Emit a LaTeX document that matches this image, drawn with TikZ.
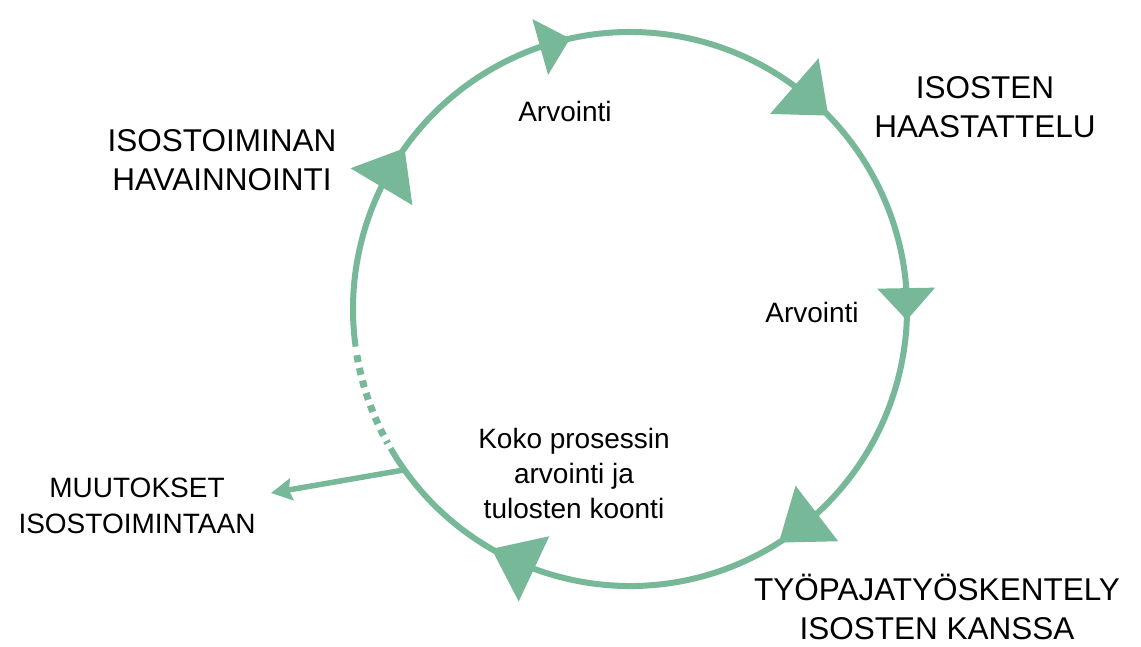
\documentclass[tikz,border=0pt]{standalone}
\usepackage{fontspec}
\setmainfont{Liberation Sans}
\usetikzlibrary{calc,arrows.meta}
\definecolor{cyc}{RGB}{119,184,152}
\begin{document}
\begin{tikzpicture}[x=1pt,y=1pt,
  ring/.style={draw=cyc,line width=6pt},
  lab/.style={font=\fontsize{31.5}{39}\selectfont,align=center,anchor=base,inner sep=0pt},
  small/.style={font=\fontsize{28}{35}\selectfont,align=center,anchor=base,inner sep=0pt},
  tri/.style={fill=cyc}]
\useasboundingbox[fill=white] (0,0) rectangle (1141,-646);
\coordinate (C) at (630,-309);
\def\R{277pt}
% solid ring
\draw[ring] ($(C)+(210.2:\R)$) arc[start angle=-149.8, end angle=187.8, radius=\R];
% dotted part
\draw[ring,line width=7pt,dash pattern=on 7pt off 6pt] ($(C)+(189.6:\R)$) arc[start angle=189.6, end angle=209, radius=\R];
% branch arrow
\coordinate (bp) at ($(C)+(215.5:\R)$);
\coordinate (bt) at (271,-493);
\draw[ring,line width=5.5pt,-{Stealth[length=21pt,width=22pt,inset=3pt]}] (bp) -- (bt);
% arrowheads on the ring
\foreach \a/\l/\w in {102.5/31/58, 44.3/45/74, 144.5/45/72, -2.3/32/58, -57.5/48/70, -120/47/72}{
  \pgfmathsetmacro\b{\a+\l/277*57.2958}
  \pgfmathsetmacro\hw{\w/2}
  \coordinate (T) at ($(C)+(\a:\R)$);
  \coordinate (B) at ($(C)+(\b:\R)$);
  \fill[tri] (T) -- ($(B)!\hw pt!90:(T)$) -- ($(B)!\hw pt!-90:(T)$) -- cycle;
}
% labels (anchor = baseline of last line)
\node[lab] (haast) at (985,-137) {ISOSTEN\\HAASTATTELU};
\node[lab] (havain) at (222,-190) {ISOSTOIMINAN\\HAVAINNOINTI};
\node[lab] (tyopaja) at (937,-639) {TYÖPAJATYÖSKENTELY\\ISOSTEN KANSSA};
\node[small,font=\fontsize{28}{36}\selectfont] (muutos) at (137,-533) {MUUTOKSET\\ISOSTOIMINTAAN};
\node[small] (arv1) at (565,-121) {Arvointi};
\node[small] (arv2) at (812,-322) {Arvointi};
\node[small] (koko) at (574,-518) {Koko prosessin\\arvointi ja\\tulosten koonti};
\end{tikzpicture}
\end{document}
